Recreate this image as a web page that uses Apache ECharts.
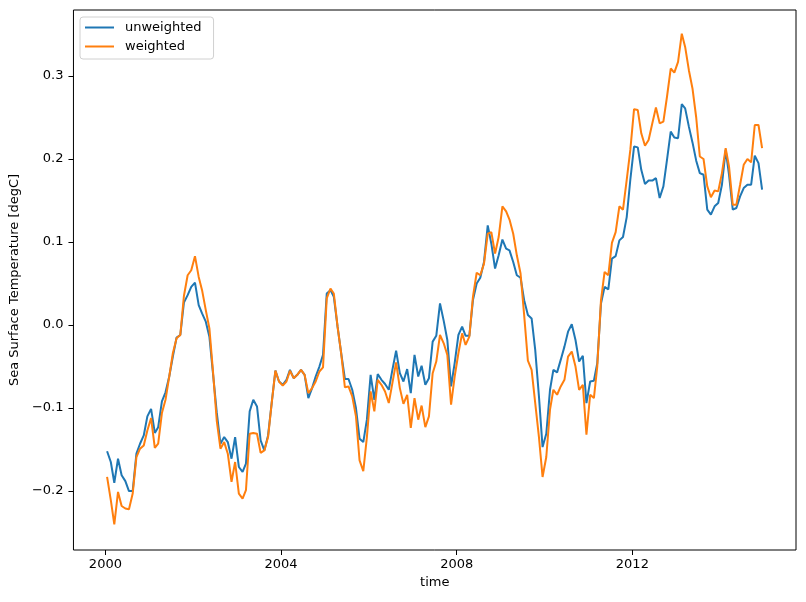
<!DOCTYPE html>
<html>
<head>
<meta charset="utf-8">
<script src="https://cdn.jsdelivr.net/npm/echarts@6/dist/echarts.min.js"></script>
<style>
html,body{margin:0;padding:0;background:#fff;}
#c{width:806px;height:602px;}
</style>
</head>
<body>
<div id="c"></div>
<script>
// Monthly series, Jan 2000 .. Dec 2014
const startYear = 2000;
const startMonth = 0;
const dayOfMonth = 15;

const unweighted = [
-0.152,-0.165,-0.190,-0.161,-0.181,-0.188,-0.200,-0.200,-0.155,-0.143,-0.133,-0.110,
-0.101,-0.130,-0.123,-0.092,-0.081,-0.062,-0.038,-0.015,-0.012,0.027,0.036,0.046,
0.051,0.024,0.014,0.004,-0.014,-0.060,-0.105,-0.143,-0.135,-0.141,-0.161,-0.135,
-0.171,-0.177,-0.167,-0.104,-0.090,-0.098,-0.139,-0.151,-0.133,-0.094,-0.055,-0.068,
-0.072,-0.066,-0.054,-0.064,-0.060,-0.054,-0.060,-0.088,-0.076,-0.062,-0.050,-0.036,
0.038,0.042,0.034,-0.002,-0.034,-0.065,-0.065,-0.078,-0.100,-0.137,-0.141,-0.114,
-0.060,-0.090,-0.059,-0.066,-0.071,-0.078,-0.054,-0.031,-0.058,-0.068,-0.053,-0.082,
-0.036,-0.062,-0.049,-0.072,-0.064,-0.020,-0.013,0.026,0.005,-0.018,-0.074,-0.046,
-0.012,-0.002,-0.013,-0.013,0.030,0.050,0.057,0.076,0.120,0.098,0.068,0.084,
0.103,0.092,0.090,0.076,0.060,0.057,0.030,0.012,0.008,-0.030,-0.086,-0.147,
-0.131,-0.078,-0.054,-0.057,-0.042,-0.026,-0.008,0.001,-0.018,-0.044,-0.037,-0.094,
-0.068,-0.067,-0.046,0.026,0.046,0.043,0.080,0.083,0.102,0.106,0.130,0.175,
0.215,0.214,0.187,0.170,0.174,0.174,0.177,0.153,0.167,0.199,0.233,0.226,
0.225,0.266,0.261,0.239,0.220,0.198,0.183,0.181,0.139,0.133,0.143,0.147,
0.169,0.211,0.181,0.139,0.141,0.155,0.165,0.169,0.169,0.204,0.195,0.163
];

const weighted = [
-0.183,-0.211,-0.240,-0.201,-0.218,-0.221,-0.222,-0.203,-0.159,-0.149,-0.145,-0.127,
-0.112,-0.148,-0.143,-0.106,-0.090,-0.062,-0.034,-0.016,-0.012,0.035,0.060,0.066,
0.083,0.058,0.042,0.018,-0.004,-0.058,-0.115,-0.149,-0.141,-0.155,-0.189,-0.165,
-0.203,-0.209,-0.199,-0.131,-0.130,-0.131,-0.154,-0.151,-0.135,-0.094,-0.055,-0.068,
-0.073,-0.068,-0.055,-0.064,-0.060,-0.054,-0.060,-0.082,-0.076,-0.068,-0.056,-0.051,
0.032,0.044,0.038,-0.002,-0.034,-0.075,-0.074,-0.086,-0.110,-0.163,-0.176,-0.135,
-0.080,-0.104,-0.066,-0.072,-0.080,-0.094,-0.070,-0.045,-0.076,-0.095,-0.084,-0.124,
-0.088,-0.114,-0.097,-0.123,-0.110,-0.058,-0.044,-0.012,-0.022,-0.036,-0.096,-0.062,
-0.034,-0.010,-0.024,-0.014,0.034,0.063,0.060,0.074,0.110,0.112,0.086,0.106,
0.143,0.137,0.127,0.110,0.084,0.062,0.012,-0.043,-0.054,-0.094,-0.135,-0.183,
-0.159,-0.102,-0.078,-0.084,-0.074,-0.066,-0.038,-0.032,-0.050,-0.078,-0.072,-0.132,
-0.084,-0.088,-0.050,0.030,0.064,0.060,0.099,0.112,0.143,0.139,0.175,0.211,
0.260,0.259,0.231,0.216,0.223,0.243,0.262,0.243,0.245,0.275,0.309,0.304,
0.317,0.351,0.335,0.307,0.285,0.250,0.203,0.200,0.167,0.154,0.162,0.161,
0.183,0.213,0.191,0.145,0.145,0.169,0.193,0.200,0.196,0.241,0.241,0.213
];

const xTickYears = [2000, 2004, 2008, 2012];
const yTicks = [-0.2, -0.1, 0.0, 0.1, 0.2, 0.3];
const seriesNames = ['unweighted', 'weighted'];

const DAY = 86400000;
function monthDate(i) {
  return Date.UTC(startYear, startMonth + i, dayOfMonth);
}
const pairs = arr => arr.map((v, i) => [monthDate(i), v]);
const base = Date.UTC(2000, 0, 1);
const xMin = base - 265.6 * DAY;
const xMax = base + 5744 * DAY;
const xTickValues = xTickYears.map(y => Date.UTC(y, 0, 1));

const FONT = 'DejaVu Sans';
const chart = echarts.init(document.getElementById('c'), null, {renderer: 'canvas'});
chart.setOption({
  animation: false,
  backgroundColor: '#fff',
  textStyle: {fontFamily: FONT, color: '#000'},
  grid: {left: 72, right: 10, top: 10, bottom: 52, show: true, borderColor: '#000', borderWidth: 1, containLabel: false},
  legend: {
    left: 80, top: 17, orient: 'vertical',
    data: seriesNames,
    icon: 'rect', itemWidth: 29, itemHeight: 2, itemGap: 6,
    padding: [4, 12, 6, 5],
    borderColor: '#d0d0d0', borderWidth: 1, borderRadius: 3,
    backgroundColor: 'rgba(255,255,255,0.8)',
    textStyle: {fontFamily: FONT, fontSize: 13, color: '#000', padding: [0, 0, 0, 6]}
  },
  xAxis: {
    type: 'value', min: xMin, max: xMax,
    name: 'time', nameLocation: 'middle', nameGap: 25,
    nameTextStyle: {fontFamily: FONT, fontSize: 13, color: '#000'},
    axisLine: {show: false, onZero: false},
    axisTick: {show: true, length: 5, lineStyle: {color: '#000'}, customValues: xTickValues},
    axisLabel: {customValues: xTickValues, margin: 8, fontFamily: FONT, fontSize: 13, color: '#000',
      formatter: v => String(new Date(v).getUTCFullYear())},
    splitLine: {show: false}
  },
  yAxis: {
    type: 'value', min: -0.271, max: 0.3795,
    name: 'Sea Surface Temperature [degC]', nameLocation: 'middle', nameGap: 49, nameRotate: 90,
    nameTextStyle: {fontFamily: FONT, fontSize: 13, color: '#000'},
    axisLine: {show: false, onZero: false},
    axisTick: {show: true, length: 5, lineStyle: {color: '#000'}, customValues: yTicks},
    axisLabel: {customValues: yTicks, margin: 10, fontFamily: FONT, fontSize: 13, color: '#000',
      formatter: v => v.toFixed(1).replace('-', '\u2212')},
    splitLine: {show: false}
  },
  series: [
    {name: seriesNames[0], type: 'line', data: pairs(unweighted), showSymbol: false, symbol: 'none',
     lineStyle: {color: '#1f77b4', width: 2}, itemStyle: {color: '#1f77b4'}},
    {name: seriesNames[1], type: 'line', data: pairs(weighted), showSymbol: false, symbol: 'none',
     lineStyle: {color: '#ff7f0e', width: 2}, itemStyle: {color: '#ff7f0e'}}
  ]
});
</script>
</body>
</html>
